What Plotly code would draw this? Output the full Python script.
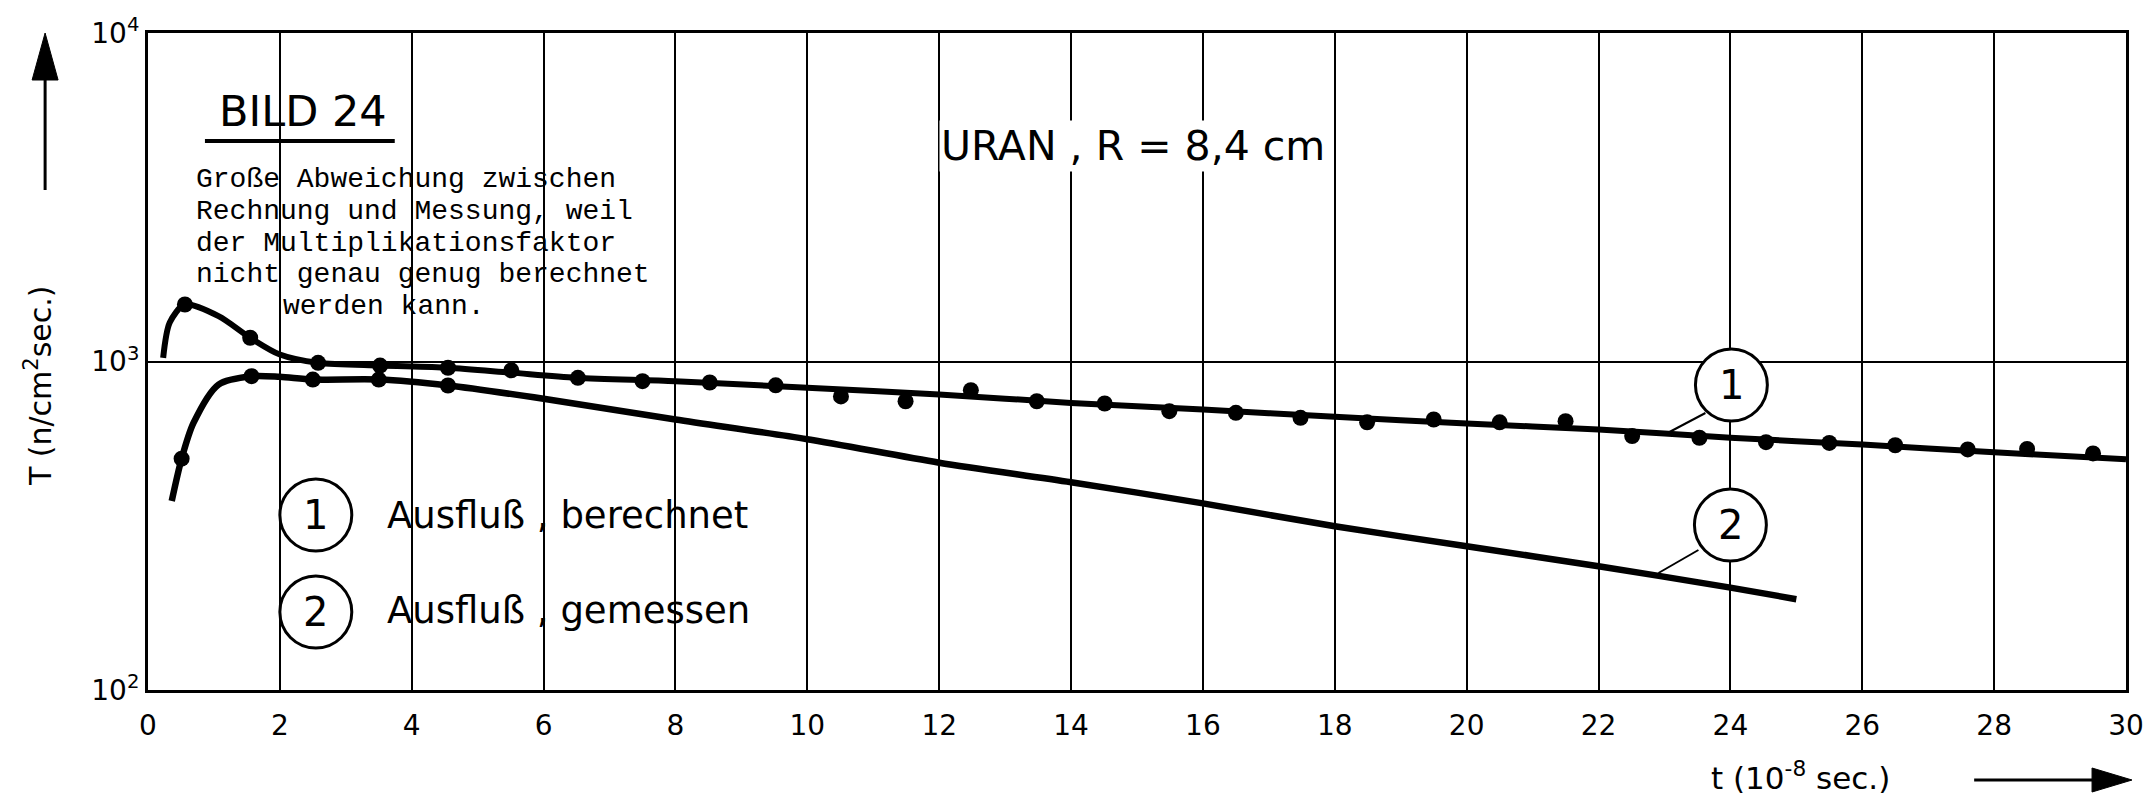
import math
import plotly.graph_objects as go

# ---------------- data ----------------
# Curve 1 ("Ausfluß, berechnet") - solid line
t_curve1 = [0.23, 0.33, 0.56, 1.07, 1.55, 2.0, 2.58, 3.52, 4.55, 5.5, 6.5, 8, 10, 12, 14,
            16, 18, 20, 22, 24, 26, 28, 30]
T_curve1 = [1026, 1314, 1491, 1374, 1181, 1050, 991, 972, 957, 925, 892, 871, 832, 794, 748,
            714, 679, 647, 621, 586, 559, 529, 504]
# points (dots) lying along curve 1
t_pts1 = [0.56, 1.55, 2.58, 3.52, 4.55, 5.51, 6.52, 7.5, 8.52, 9.52, 10.51, 11.49, 12.48,
          13.48, 14.51, 15.49, 16.5, 17.48, 18.49, 19.5, 20.5, 21.5, 22.51, 23.53, 24.54,
          25.5, 26.5, 27.6, 28.5, 29.5]
T_pts1 = [1491, 1181, 991, 972, 957, 940, 892, 871, 863, 846, 783, 757, 818, 757, 745, 706,
          698, 674, 653, 666, 653, 658, 593, 586, 568, 565, 556, 540, 542, 525]

# Curve 2 ("Ausfluß, gemessen") - solid line
t_curve2 = [0.36, 0.51, 0.69, 1.07, 1.57, 2.0, 2.5, 3.5, 4.55, 6, 8, 10, 12, 14, 16,
            18, 20, 22, 24, 25]
T_curve2 = [376, 506, 650, 851, 902, 898, 881, 881, 845, 770, 666, 580, 492, 429, 370,
            315, 274, 238, 205, 189]
t_pts2 = [0.51, 1.57, 2.5, 3.5, 4.55]
T_pts2 = [506, 902, 881, 881, 845]

x_ticks = list(range(0, 31, 2))
y_tickvals = [100, 1000, 10000]
y_ticktext = ["10<sup>2</sup>", "10<sup>3</sup>", "10<sup>4</sup>"]

# ---------------- layout geometry ----------------
W, H = 2156, 809
L, R, TOP, BOT = 148, 2128, 33, 690


def px(x):
    return (x - L) / (R - L)


def py(y):
    return (BOT - y) / (BOT - TOP)


SANS = "DejaVu Sans"
MONO = "Liberation Mono, DejaVu Sans Mono, monospace"

fig = go.Figure()
fig.add_trace(go.Scatter(x=t_curve1, y=T_curve1, mode="lines",
                         line=dict(color="black", width=6, shape="spline", smoothing=0.8),
                         showlegend=False, hoverinfo="skip"))
fig.add_trace(go.Scatter(x=t_pts1, y=T_pts1, mode="markers",
                         marker=dict(color="black", size=16), showlegend=False))
fig.add_trace(go.Scatter(x=t_curve2, y=T_curve2, mode="lines",
                         line=dict(color="black", width=6.5, shape="spline", smoothing=0.8),
                         showlegend=False, hoverinfo="skip"))
fig.add_trace(go.Scatter(x=t_pts2, y=T_pts2, mode="markers",
                         marker=dict(color="black", size=16), showlegend=False))

shapes = []
annotations = []

# white areas behind text blocks (between grid and data)
shapes.append(dict(type="path", xref="paper", yref="paper", layer="between",
                   path="M {a},{b} L {c},{b} L {c},{d} L {e},{d} L {e},{f} L {a},{f} Z".format(
                       a=px(190), b=py(92), c=px(420), d=py(140), e=px(660), f=py(322)),
                   fillcolor="white", line=dict(width=0)))
shapes.append(dict(type="rect", xref="paper", yref="paper", layer="between",
                   x0=px(375), x1=px(760), y0=py(645), y1=py(487),
                   fillcolor="white", line=dict(width=0)))

# title block
annotations.append(dict(text="BILD 24", x=px(303), y=py(111), xref="paper", yref="paper",
                        showarrow=False, xanchor="center", yanchor="middle",
                        font=dict(family=SANS, size=43, color="black")))
shapes.append(dict(type="line", xref="paper", yref="paper", x0=px(205), x1=px(395),
                   y0=py(141), y1=py(141), line=dict(color="black", width=4)))

note_lines = ["Große Abweichung zwischen", "Rechnung und Messung, weil",
              "der Multiplikationsfaktor", "nicht genau genug berechnet", "werden kann."]
note_x = [194, 194, 194, 194, 281]
note_y = [179, 211, 243, 274, 306]
for txt, xx, yy in zip(note_lines, note_x, note_y):
    annotations.append(dict(text=txt, x=px(xx), y=py(yy), xref="paper", yref="paper",
                            showarrow=False, xanchor="left", yanchor="middle",
                            font=dict(family=MONO, size=28, color="black")))

annotations.append(dict(text="URAN , R = 8,4 cm", x=px(1134), y=py(146), xref="paper",
                        yref="paper", showarrow=False, xanchor="center", yanchor="middle",
                        bgcolor="white", font=dict(family=SANS, size=41, color="black")))


# circled numbers
def circle(cx, cy, r, label, size=40):
    shapes.append(dict(type="circle", xref="paper", yref="paper", layer="above",
                       x0=px(cx - r), x1=px(cx + r), y0=py(cy + r), y1=py(cy - r),
                       fillcolor="white", line=dict(color="black", width=3)))
    annotations.append(dict(text=label, x=px(cx), y=py(cy), xref="paper", yref="paper",
                            showarrow=False, xanchor="center", yanchor="middle",
                            font=dict(family=SANS, size=size, color="black")))


circle(316, 515, 36, "1")
circle(316, 612, 36, "2")
annotations.append(dict(text="Ausfluß , berechnet", x=px(385), y=py(515), xref="paper",
                        yref="paper", showarrow=False, xanchor="left", yanchor="middle",
                        font=dict(family=SANS, size=37, color="black")))
annotations.append(dict(text="Ausfluß , gemessen", x=px(385), y=py(610), xref="paper",
                        yref="paper", showarrow=False, xanchor="left", yanchor="middle",
                        font=dict(family=SANS, size=37, color="black")))

# curve labels with leader lines
shapes.append(dict(type="line", xref="paper", yref="paper", x0=px(1707), y0=py(413),
                   x1=px(1671), y1=py(432), line=dict(color="black", width=2)))
shapes.append(dict(type="line", xref="paper", yref="paper", x0=px(1700), y0=py(550),
                   x1=px(1660), y1=py(573), line=dict(color="black", width=2)))
circle(1733, 385, 36, "1")
circle(1732, 525, 36, "2")

# axis titles
annotations.append(dict(text="T (n/cm<sup>2</sup>sec.)", x=px(38), y=py(386), xref="paper",
                        yref="paper", showarrow=False, textangle=-90, xanchor="center",
                        yanchor="middle", font=dict(family=SANS, size=30, color="black")))
annotations.append(dict(text="t (10<sup>-8</sup> sec.)", x=px(1802), y=py(776), xref="paper",
                        yref="paper", showarrow=False, xanchor="center", yanchor="middle",
                        font=dict(family=SANS, size=31, color="black")))

# arrows
shapes.append(dict(type="line", xref="paper", yref="paper", x0=px(45), x1=px(45),
                   y0=py(190), y1=py(75), line=dict(color="black", width=3)))
shapes.append(dict(type="path", xref="paper", yref="paper",
                   path="M {a},{b} L {c},{d} L {e},{d} Z".format(
                       a=px(45), b=py(33), c=px(32), d=py(80), e=px(58)),
                   fillcolor="black", line=dict(color="black", width=1)))
shapes.append(dict(type="line", xref="paper", yref="paper", x0=px(1976), x1=px(2110),
                   y0=py(780), y1=py(780), line=dict(color="black", width=3)))
shapes.append(dict(type="path", xref="paper", yref="paper",
                   path="M {a},{b} L {c},{d} L {c},{e} Z".format(
                       a=px(2134), b=py(780), c=px(2094), d=py(768), e=py(792)),
                   fillcolor="black", line=dict(color="black", width=1)))

fig.update_layout(
    width=W, height=H,
    margin=dict(l=L, r=W - R, t=TOP, b=H - BOT, pad=0),
    paper_bgcolor="white", plot_bgcolor="white",
    shapes=shapes, annotations=annotations,
    showlegend=False,
    font=dict(family=SANS, color="black"),
)
fig.update_xaxes(range=[0, 30], tickvals=x_ticks, ticktext=[str(v) for v in x_ticks],
                 showgrid=True, gridcolor="black", gridwidth=1.5, zeroline=False,
                 showline=True, linecolor="black", linewidth=3, mirror=True,
                 ticks="", ticklabelstandoff=8,
                 tickfont=dict(family=SANS, size=28, color="black"))
fig.update_yaxes(type="log", range=[2, 4], tickvals=y_tickvals, ticktext=y_ticktext,
                 showgrid=True, gridcolor="black", gridwidth=1.5, zeroline=False,
                 showline=True, linecolor="black", linewidth=3, mirror=True,
                 ticks="", ticklabelstandoff=0,
                 tickfont=dict(family=SANS, size=28, color="black"))

fig.write_html("out.html")
